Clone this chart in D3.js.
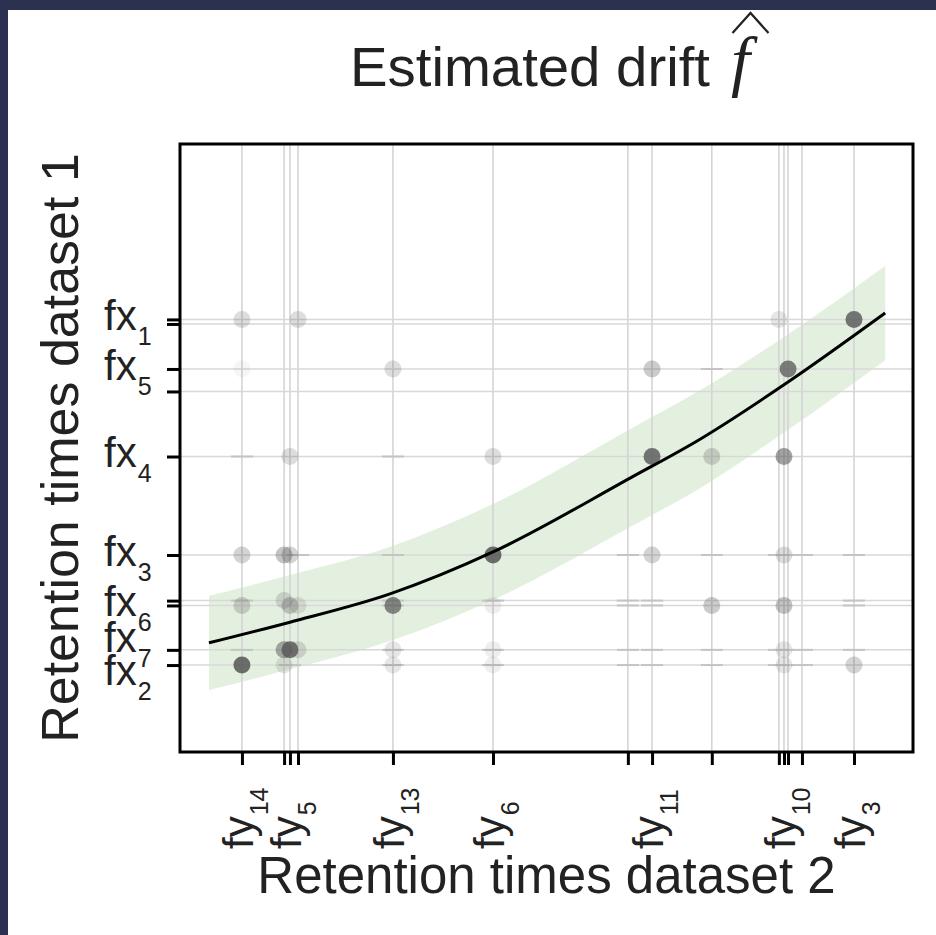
<!DOCTYPE html>
<html>
<head>
<meta charset="utf-8">
<script src="https://cdn.jsdelivr.net/npm/d3@7/dist/d3.min.js"></script>
<style>
    html, body { margin: 0; padding: 0; background: #2c3152; }
    svg { display: block; }
    text { font-family: "Liberation Sans", Arial, sans-serif; fill: #222; }
</style>
</head>
<body>
<div id="chart"></div>
<script>
// retention times (arbitrary units) of the peaks on each axis
var fyTicks = [11.69, 12.84, 13.00, 13.22, 15.81, 18.54, 22.22, 22.88, 24.51, 26.34, 26.48, 26.59, 26.97, 28.39];
var fySubs = ["14", "", "5", "", "13", "6", "", "11", "", "", "10", "", "", "3"];
var fxTicks = [24.23, 24.08, 22.60, 21.86, 19.72, 16.48, 14.98, 14.82, 13.36, 12.86];
var fxSubs = ["1", "", "5", "", "4", "3", "", "6", "7", "2"];

// estimated drift curve and its band
var curveX = [10.79, 13.00, 15.73, 18.54, 22.28, 24.19, 26.59, 29.24];
var curveY = [13.59, 14.27, 15.20, 16.58, 19.01, 20.29, 22.17, 24.44];
var bandHi = [15.14, 15.82, 16.75, 18.16, 20.62, 21.90, 23.74, 25.99];
var bandLo = [12.04, 12.72, 13.65, 15.00, 17.40, 18.68, 20.60, 22.89];

// matching weights: [fy index, fx index, weight]
var matches = [
    [0, 9, 0.85], [2, 8, 0.8], [1, 8, 0.5], [3, 8, 0.2], [4, 7, 0.7], [5, 5, 0.85],
    [7, 4, 0.8], [11, 2, 0.75], [13, 0, 0.8], [10, 4, 0.55],
    [0, 0, 0.2], [3, 0, 0.2], [9, 0, 0.15], [7, 2, 0.3], [4, 2, 0.2], [0, 2, 0.05],
    [2, 4, 0.2], [5, 4, 0.2], [8, 4, 0.25],
    [0, 5, 0.25], [1, 5, 0.35], [2, 5, 0.25], [7, 5, 0.25], [10, 5, 0.2],
    [0, 7, 0.25], [2, 7, 0.3], [1, 6, 0.2], [3, 7, 0.15], [8, 7, 0.3], [10, 7, 0.35], [5, 7, 0.1],
    [4, 8, 0.15], [5, 8, 0.1], [10, 8, 0.15],
    [4, 9, 0.15], [5, 9, 0.1], [1, 9, 0.15], [13, 9, 0.25], [10, 9, 0.15]
];
// near-zero weights, only a short trace is left
var traces = [
    [0, 4], [4, 4], [8, 2], [4, 5], [8, 5], [6, 5], [12, 5], [13, 5], [9, 5],
    [0, 8], [4, 8], [5, 8], [6, 6], [6, 7], [7, 6], [7, 7], [6, 8], [6, 9], [7, 8], [7, 9],
    [8, 8], [8, 9], [13, 6], [13, 7], [13, 8], [9, 8], [9, 9], [12, 9], [4, 9], [5, 9],
    [5, 6], [4, 6], [4, 7], [2, 9], [3, 5], [0, 6], [12, 8]
];

var W = 936, H = 935;
var box = {left: 180, right: 913, top: 144, bottom: 752};

var svg = d3.select('#chart').append('svg')
    .attr('width', W)
    .attr('height', H);

// frame
svg.append('rect').attr('width', W).attr('height', H).attr('fill', '#2c3152');
svg.append('rect').attr('x', 8).attr('y', 10).attr('width', W - 8).attr('height', H - 10).attr('fill', '#fff');

var x = d3.scaleLinear().domain([10, 30]).range([box.left, box.right]);
var y = d3.scaleLinear().domain([10, 30]).range([box.bottom, box.top]);

var plot = svg.append('g');

// band
var bandData = curveX.map(function (d, i) {
    return {x: d, lo: bandLo[i], hi: bandHi[i]};
});
plot.append('path')
    .datum(bandData)
    .attr('fill', '#deedd9')
    .attr('fill-opacity', 0.85)
    .attr('d', d3.area()
        .x(function (d) { return x(d.x); })
        .y0(function (d) { return y(d.lo); })
        .y1(function (d) { return y(d.hi); })
        .curve(d3.curveMonotoneX));

// grid lines at each peak
plot.append('g').selectAll('line').data(fyTicks).join('line')
    .attr('x1', function (d) { return x(d); })
    .attr('x2', function (d) { return x(d); })
    .attr('y1', box.top).attr('y2', box.bottom)
    .attr('stroke', '#d2d2d2').attr('stroke-width', 1.5);
plot.append('g').selectAll('line').data(fxTicks).join('line')
    .attr('y1', function (d) { return y(d); })
    .attr('y2', function (d) { return y(d); })
    .attr('x1', box.left).attr('x2', box.right)
    .attr('stroke', '#d8d8d8').attr('stroke-width', 1.5);

// traces
plot.append('g').selectAll('line').data(traces).join('line')
    .attr('x1', function (d) { return x(fyTicks[d[0]]) - 11; })
    .attr('x2', function (d) { return x(fyTicks[d[0]]) + 11; })
    .attr('y1', function (d) { return y(fxTicks[d[1]]); })
    .attr('y2', function (d) { return y(fxTicks[d[1]]); })
    .attr('stroke', '#c4c4c4').attr('stroke-width', 2);

// weighted matches
plot.append('g').selectAll('circle').data(matches).join('circle')
    .attr('cx', function (d) { return x(fyTicks[d[0]]); })
    .attr('cy', function (d) { return y(fxTicks[d[1]]); })
    .attr('r', 8.5)
    .attr('fill', '#555')
    .attr('fill-opacity', function (d) { return d[2]; });

// curve
plot.append('path')
    .datum(curveX.map(function (d, i) { return [d, curveY[i]]; }))
    .attr('fill', 'none')
    .attr('stroke', '#000')
    .attr('stroke-width', 3)
    .attr('d', d3.line()
        .x(function (d) { return x(d[0]); })
        .y(function (d) { return y(d[1]); })
        .curve(d3.curveMonotoneX));

// box
svg.append('rect')
    .attr('x', box.left).attr('y', box.top)
    .attr('width', box.right - box.left).attr('height', box.bottom - box.top)
    .attr('fill', 'none').attr('stroke', '#000').attr('stroke-width', 3);

// axes
var xAxis = d3.axisBottom(x).tickValues(fyTicks).tickSize(13).tickFormat('');
var yAxis = d3.axisLeft(y).tickValues(fxTicks).tickSize(13).tickFormat('');
var gx = svg.append('g').attr('transform', 'translate(0,' + box.bottom + ')').call(xAxis);
var gy = svg.append('g').attr('transform', 'translate(' + box.left + ',0)').call(yAxis);
[gx, gy].forEach(function (g) {
    g.select('.domain').remove();
    g.selectAll('.tick line').attr('stroke', '#000').attr('stroke-width', 3);
});

// push overlapping labels apart
function spread(pos, gap) {
    var p = pos.slice();
    var order = d3.range(p.length).sort(function (a, b) { return p[a] - p[b]; });
    for (var it = 0; it < 50; it++) {
        for (var k = 1; k < order.length; k++) {
            var a = order[k - 1], b = order[k];
            var diff = p[b] - p[a];
            if (diff < gap) {
                var m = (gap - diff) / 2;
                p[a] -= m;
                p[b] += m;
            }
        }
    }
    return p;
}

function addLabel(g, main, sub) {
    var t = g.append('text')
        .attr('font-size', 42)
        .attr('dy', '0.26em');
    t.append('tspan').text(main);
    t.append('tspan').attr('font-size', 25).attr('dx', 1).attr('dy', 15).text(sub);
}

// y labels
var fxLab = fxTicks.map(function (d, i) { return {v: d, s: fxSubs[i]}; })
    .filter(function (d) { return d.s !== ''; });
var fxPos = spread(fxLab.map(function (d) { return y(d.v); }), 33);
fxLab.forEach(function (d, i) {
    addLabel(svg.append('g').attr('transform', 'translate(104,' + fxPos[i] + ')'), 'fx', d.s);
});

// x labels
var fyLab = fyTicks.map(function (d, i) { return {v: d, s: fySubs[i]}; })
    .filter(function (d) { return d.s !== ''; });
var fyPos = spread(fyLab.map(function (d) { return x(d.v); }), 33);
fyLab.forEach(function (d, i) {
    addLabel(svg.append('g').attr('transform', 'translate(' + fyPos[i] + ',849) rotate(-90)'), 'fy', d.s);
});

// titles
var title = svg.append('text')
    .attr('x', 350).attr('y', 86)
    .attr('font-size', 55)
    .attr('textLength', 360)
    .attr('lengthAdjust', 'spacingAndGlyphs')
    .text('Estimated drift');
var fHat = svg.append('text')
    .attr('x', 731).attr('y', 84)
    .style('font-family', '"Liberation Serif", "DejaVu Serif", serif')
    .style('font-style', 'italic')
    .attr('font-size', 68)
    .text('f');
var fb = fHat.node().getBBox();
var hx = fb.x + fb.width / 2 + 6;
svg.append('path')
    .attr('d', 'M' + (hx - 18) + ',33 L' + hx + ',13 L' + (hx + 18) + ',33')
    .attr('fill', 'none').attr('stroke', '#222').attr('stroke-width', 2.2);

svg.append('text')
    .attr('x', (box.left + box.right) / 2).attr('y', 893)
    .attr('text-anchor', 'middle')
    .attr('font-size', 51)
    .text('Retention times dataset 2');
svg.append('text')
    .attr('transform', 'translate(78,' + (box.top + box.bottom) / 2 + ') rotate(-90)')
    .attr('text-anchor', 'middle')
    .attr('font-size', 52)
    .text('Retention times dataset 1');
</script>
</body>
</html>
